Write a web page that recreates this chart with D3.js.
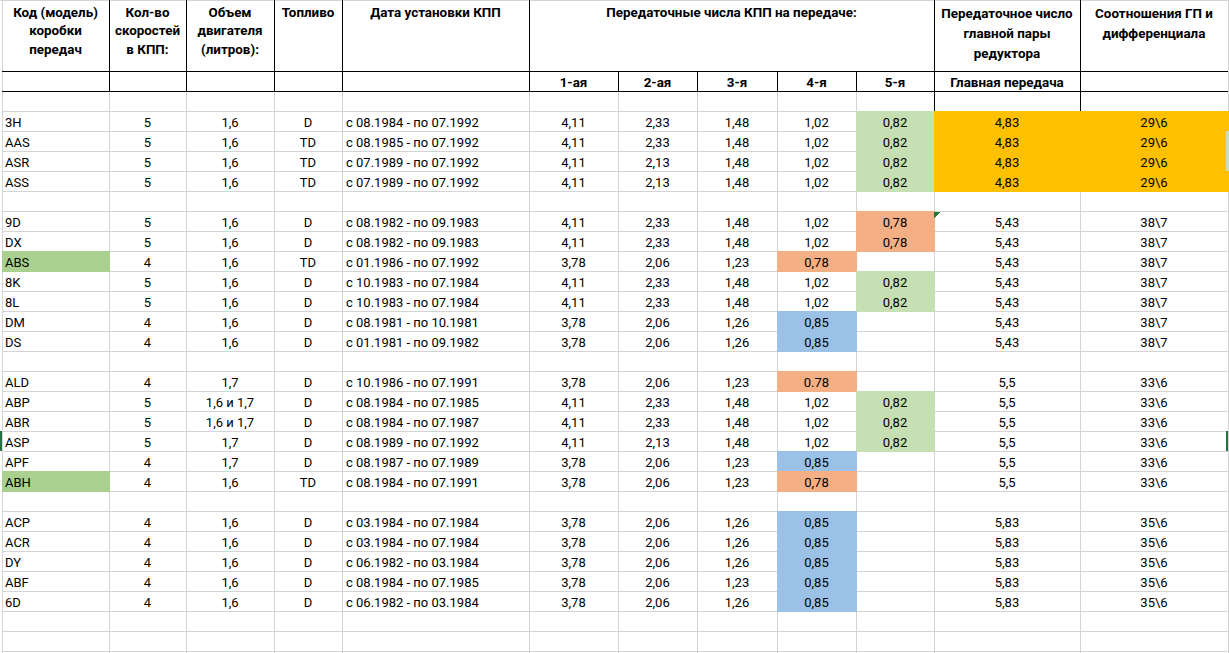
<!DOCTYPE html>
<html><head><meta charset="utf-8">
<script src="https://cdn.jsdelivr.net/npm/d3@7"></script>
<style>
html,body{margin:0;padding:0;background:#fff;}
svg{display:block;}
</style></head>
<body>
<script>
// ---------- DATA ----------
const headerTop = [
  ["Код (модель)","коробки","передач"],
  ["Кол-во","скоростей","в КПП:"],
  ["Объем","двигателя","(литров):"],
  ["Топливо"],
  ["Дата установки КПП"],
  ["Передаточные числа КПП на передаче:"],
  ["Передаточное число","главной пары","редуктора"],
  ["Соотношения ГП и","дифференциала"]
];
const headerSub = ["1-ая","2-ая","3-я","4-я","5-я","Главная передача",""];

const codes   = ["3H","AAS","ASR","ASS","","9D","DX","ABS","8K","8L","DM","DS","","ALD","ABP","ABR","ASP","APF","ABH","","ACP","ACR","DY","ABF","6D"];
const speeds  = ["5","5","5","5","","5","5","4","5","5","4","4","","4","5","5","5","4","4","","4","4","4","4","4"];
const volumes = ["1,6","1,6","1,6","1,6","","1,6","1,6","1,6","1,6","1,6","1,6","1,6","","1,7","1,6 и 1,7","1,6 и 1,7","1,7","1,7","1,6","","1,6","1,6","1,6","1,6","1,6"];
const fuels   = ["D","TD","TD","TD","","D","D","TD","D","D","D","D","","D","D","D","D","D","TD","","D","D","D","D","D"];
const dates   = ["с 08.1984 - по 07.1992","с 08.1985 - по 07.1992","с 07.1989 - по 07.1992","с 07.1989 - по 07.1992","",
  "с 08.1982 - по 09.1983","с 08.1982 - по 09.1983","с 01.1986 - по 07.1992","с 10.1983 - по 07.1984","с 10.1983 - по 07.1984","с 08.1981 - по 10.1981","с 01.1981 - по 09.1982","",
  "с 10.1986 - по 07.1991","с 08.1984 - по 07.1985","с 08.1984 - по 07.1987","с 08.1989 - по 07.1992","с 08.1987 - по 07.1989","с 08.1984 - по 07.1991","",
  "с 03.1984 - по 07.1984","с 03.1984 - по 07.1984","с 06.1982 - по 03.1984","с 08.1984 - по 07.1985","с 06.1982 - по 03.1984"];
const gear1 = ["4,11","4,11","4,11","4,11","","4,11","4,11","3,78","4,11","4,11","3,78","3,78","","3,78","4,11","4,11","4,11","3,78","3,78","","3,78","3,78","3,78","3,78","3,78"];
const gear2 = ["2,33","2,33","2,13","2,13","","2,33","2,33","2,06","2,33","2,33","2,06","2,06","","2,06","2,33","2,33","2,13","2,06","2,06","","2,06","2,06","2,06","2,06","2,06"];
const gear3 = ["1,48","1,48","1,48","1,48","","1,48","1,48","1,23","1,48","1,48","1,26","1,26","","1,23","1,48","1,48","1,48","1,23","1,23","","1,26","1,26","1,26","1,23","1,26"];
const gear4 = ["1,02","1,02","1,02","1,02","","1,02","1,02","0,78","1,02","1,02","0,85","0,85","","0.78","1,02","1,02","1,02","0,85","0,78","","0,85","0,85","0,85","0,85","0,85"];
const gear5 = ["0,82","0,82","0,82","0,82","","0,78","0,78","","0,82","0,82","","","","","0,82","0,82","0,82","","","","","","","",""];
const mainRatio = ["4,83","4,83","4,83","4,83","","5,43","5,43","5,43","5,43","5,43","5,43","5,43","","5,5","5,5","5,5","5,5","5,5","5,5","","5,83","5,83","5,83","5,83","5,83"];
const ratioPair = ["29\\6","29\\6","29\\6","29\\6","","38\\7","38\\7","38\\7","38\\7","38\\7","38\\7","38\\7","","33\\6","33\\6","33\\6","33\\6","33\\6","33\\6","","35\\6","35\\6","35\\6","35\\6","35\\6"];
const highlightCodes = ["ABS","ABH"];

// ---------- LAYOUT ----------
const W = 1229, H = 653;
const colEdges = [2,109,186,274,342,529,618,697,777,856,934,1080,1228];
const nCols = colEdges.length - 1;
const nRows = codes.length;
const totalRows = nRows + 3;
const y = d3.scaleLinear().domain([0, totalRows]).range([111, 111 + 20 * totalRows]);
const x = d3.scaleOrdinal().domain(d3.range(nCols + 1)).range(colEdges);

const gearFill = v => v === "0,82" ? "#C6E0B4" : (v === "0,78" || v === "0.78") ? "#F4B084" : v === "0,85" ? "#9BC2E6" : null;

const svg = d3.select("body").append("svg").attr("width", W).attr("height", H)
  .style("font-family", "Roboto, 'Noto Sans', sans-serif");
svg.append("rect").attr("width", W).attr("height", H).attr("fill", "#fff");

const grid = svg.append("g").attr("stroke", "#d4d4d4").attr("stroke-width", 1).attr("shape-rendering", "crispEdges");
grid.append("line").attr("x1", 0).attr("x2", W).attr("y1", 0.5).attr("y2", 0.5);
grid.selectAll("line.h").data(d3.range(totalRows + 1)).join("line").attr("class", "h")
  .attr("x1", colEdges[0]).attr("x2", colEdges[nCols])
  .attr("y1", d => y(d) + 0.5).attr("y2", d => y(d) + 0.5);
grid.selectAll("line.v").data(d3.range(nCols + 1)).join("line").attr("class", "v")
  .attr("x1", d => x(d) + 0.5).attr("x2", d => x(d) + 0.5)
  .attr("y1", d => (d >= 6 && d <= 9) ? 71 : 0).attr("y2", H);

// ---------- FILLS ----------
const fills = svg.append("g").attr("shape-rendering", "crispEdges");
function cellRect(col, row, color) {
  fills.append("rect").attr("x", x(col)).attr("y", y(row))
    .attr("width", x(col + 1) - x(col) + 1).attr("height", 21).attr("fill", color);
}
codes.forEach((c, i) => {
  if (highlightCodes.includes(c)) cellRect(0, i, "#A9D08E");
  const f4 = gearFill(gear4[i]); if (f4) cellRect(8, i, f4);
  const f5 = gearFill(gear5[i]); if (f5) cellRect(9, i, f5);
  if (mainRatio[i] === "4,83") { cellRect(10, i, "#FFC000"); cellRect(11, i, "#FFC000"); }
});
fills.append("path").attr("d", `M${x(10)},${y(5)+1} L${x(10)+7},${y(5)+1} L${x(10)},${y(5)+7} Z`).attr("fill", "#1f7a3a");
fills.append("rect").attr("x", 1226).attr("y", y(1)).attr("width", 3).attr("height", 40).attr("fill", "#C6E0B4");
fills.append("rect").attr("x", 0).attr("y", y(16)).attr("width", 2).attr("height", 20).attr("fill", "#217346");
fills.append("rect").attr("x", 1226).attr("y", y(16)).attr("width", 2).attr("height", 20).attr("fill", "#217346");

// ---------- HEADER BORDERS ----------
const blk = svg.append("g").attr("stroke", "#000").attr("stroke-width", 1).attr("shape-rendering", "crispEdges");
[71, 91].forEach(yy => blk.append("line").attr("x1", colEdges[0]).attr("x2", colEdges[nCols]).attr("y1", yy + 0.5).attr("y2", yy + 0.5));
[1,2,3,4,5].forEach(c => blk.append("line").attr("x1", x(c) + 0.5).attr("x2", x(c) + 0.5).attr("y1", 0).attr("y2", 91));
[6,7,8,9].forEach(c => blk.append("line").attr("x1", x(c) + 0.5).attr("x2", x(c) + 0.5).attr("y1", 71).attr("y2", 91));
[10,11].forEach(c => blk.append("line").attr("x1", x(c) + 0.5).attr("x2", x(c) + 0.5).attr("y1", 0).attr("y2", 111));

// ---------- HEADER TEXT ----------
const hdr = svg.append("g").attr("font-weight", "bold").attr("font-size", 13.4).attr("fill", "#000").attr("text-anchor", "middle");
const headerSpans = [[0,1],[1,2],[2,3],[3,4],[4,5],[5,10],[10,11],[11,12]];
headerTop.forEach((lines, i) => {
  const [a, b] = headerSpans[i];
  const cx = (x(a) + x(b)) / 2;
  const step = i >= 6 ? 20 : 18.7;
  const base = i >= 6 ? 18 : 16.5;
  lines.forEach((t, j) => hdr.append("text").attr("x", cx).attr("y", base + j * step).text(t));
});
headerSub.forEach((t, i) => {
  const c = 5 + i;
  hdr.append("text").attr("x", (x(c) + x(c + 1)) / 2).attr("y", 86.5).text(t);
});

// ---------- BODY TEXT ----------
const body = svg.append("g").attr("font-size", 13).attr("fill", "#000");
const centered = [speeds, volumes, fuels, null, gear1, gear2, gear3, gear4, gear5, mainRatio, ratioPair];
codes.forEach((c, i) => {
  const by = y(i) + 16;
  body.append("text").attr("x", x(0) + 3).attr("y", by).text(c);
  body.append("text").attr("x", x(4) + 4).attr("y", by).text(dates[i]);
  centered.forEach((arr, k) => {
    if (!arr) return;
    const col = k + 1;
    body.append("text").attr("x", (x(col) + x(col + 1)) / 2).attr("y", by)
      .attr("text-anchor", "middle").text(arr[i]);
  });
});
</script>
</body></html>
